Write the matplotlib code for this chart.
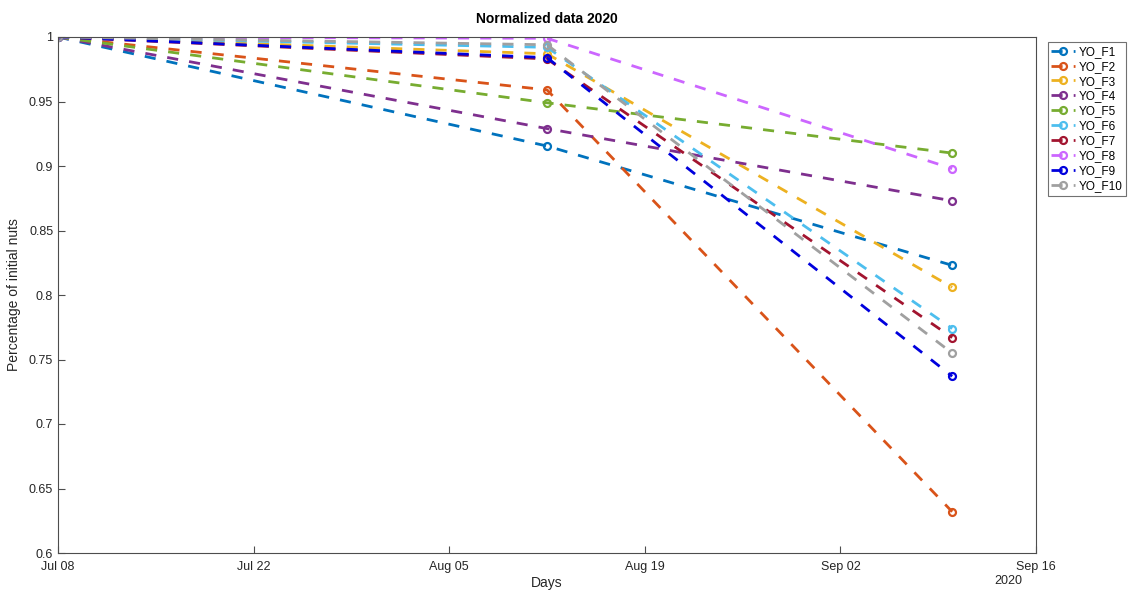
import matplotlib
matplotlib.use("Agg")
import matplotlib.pyplot as plt
import matplotlib.dates as mdates
import numpy as np
from datetime import date

plt.rcParams['font.family'] = ['Liberation Sans', 'DejaVu Sans']

# sampling days
days = [date(2020, 7, 8), date(2020, 8, 12), date(2020, 9, 10)]

# normalized nut counts per field
names = ["YO_F1", "YO_F2", "YO_F3", "YO_F4", "YO_F5",
         "YO_F6", "YO_F7", "YO_F8", "YO_F9", "YO_F10"]
values = [
    [1.0, 0.9155, 0.823],
    [1.0, 0.959, 0.632],
    [1.0, 0.987, 0.806],
    [1.0, 0.929, 0.873],
    [1.0, 0.949, 0.910],
    [1.0, 0.992, 0.774],
    [1.0, 0.983, 0.767],
    [1.0, 0.999, 0.898],
    [1.0, 0.984, 0.737],
    [1.0, 0.994, 0.755],
]
colors = ["#0072BD", "#D95319", "#EDB120", "#7E2F8E", "#77AC30",
          "#4DBEEE", "#A2142F", "#CC66FF", "#0000DD", "#A0A0A0"]

fig = plt.figure(figsize=(11.29, 5.93), dpi=100)
ax = fig.add_axes([58 / 1129, 1 - 553 / 593, (1036 - 58) / 1129, (553 - 37) / 593])

for name, vals, c in zip(names, values, colors):
    ax.plot(days, vals, linestyle="--", color=c, linewidth=2, marker="o",
            markersize=5, markerfacecolor="none", markeredgewidth=1.6,
            label=name, dashes=(4, 4))

ax.set_xlim(date(2020, 7, 8), date(2020, 9, 16))
ax.set_ylim(0.6, 1.0)
ticks = [date(2020, 7, 8), date(2020, 7, 22), date(2020, 8, 5),
         date(2020, 8, 19), date(2020, 9, 2), date(2020, 9, 16)]
ax.set_xticks(ticks)
ax.xaxis.set_major_formatter(mdates.DateFormatter("%b %d"))
ax.set_yticks(np.arange(0.6, 1.0001, 0.05))
ax.yaxis.set_major_formatter(plt.FuncFormatter(lambda v, p: "%g" % round(v, 2)))

axc = "#262626"
for s in ax.spines.values():
    s.set_color("#4d4d4d")
    s.set_linewidth(0.8)
ax.tick_params(direction="in", length=5, colors="#4d4d4d", labelcolor=axc,
               labelsize=9, width=0.8)
ax.tick_params(axis="x", pad=6)

ax.set_title("Normalized data 2020", fontsize=10, fontweight="bold", pad=10)
ax.set_xlabel("Days", fontsize=10, color=axc, labelpad=2)
ax.set_ylabel("Percentage of initial nuts", fontsize=10, color=axc, labelpad=6)
fig.text(1008 / 1129, 1 - 581 / 593, "2020", fontsize=9, color=axc,
         ha="center", va="center")

leg = ax.legend(loc="upper left", bbox_to_anchor=(1.012, 0.99), fontsize=8.5,
                frameon=True, fancybox=False, edgecolor="#4d4d4d",
                handlelength=2.0, handletextpad=0.3, borderpad=0.3,
                labelspacing=0.25, borderaxespad=0)
leg.get_frame().set_linewidth(0.8)

fig.savefig("out.png", dpi=100)
